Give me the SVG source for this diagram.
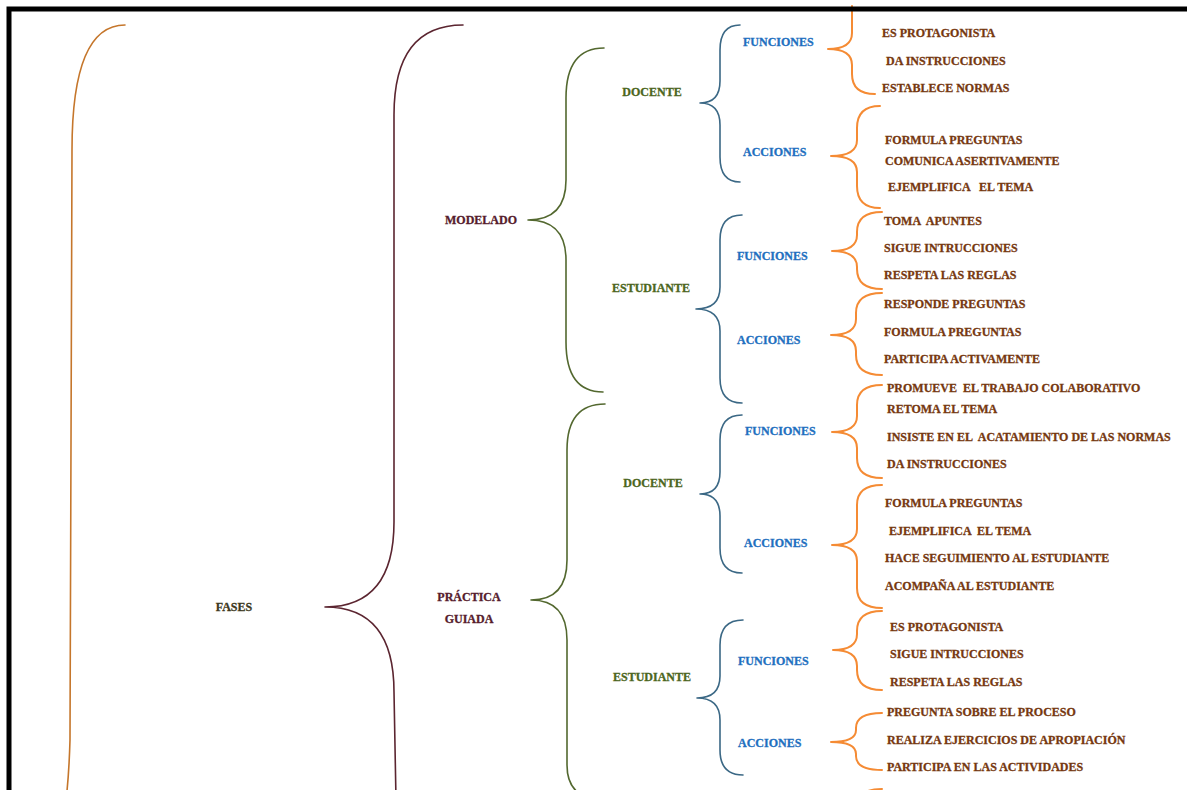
<svg xmlns="http://www.w3.org/2000/svg" width="1187" height="790" viewBox="0 0 1187 790">
  <style>
    text { font-family: "Liberation Serif", "Times New Roman", serif; font-weight: bold; font-size: 12px; white-space: pre; stroke-width: 0.3; }
    .phase { fill: #561c2c; stroke: #561c2c; }
    .root { fill: #3d381c; stroke: #3d381c; }
    .role { fill: #4c6620; stroke: #4c6620; }
    .kind { fill: #1f70c0; stroke: #1f70c0; }
    .item { fill: #763810; stroke: #763810; }
    .mid { text-anchor: middle; }
    path { fill: none; stroke-linecap: round; stroke-linejoin: round; }
    .b-outer { stroke: #c5762b; stroke-width: 1.6; }
    .b-phase { stroke: #5b2530; stroke-width: 1.6; }
    .b-role { stroke: #53682f; stroke-width: 1.6; }
    .b-kind { stroke: #3b6885; stroke-width: 1.6; }
    .b-item { stroke: #f58b34; stroke-width: 2; }
  </style>

  <rect x="0" y="0" width="1187" height="790" fill="#ffffff"/>

  <!-- braces -->
  <g id="connectors">
    <path class="b-outer" d="M125,25 Q72,25 72,150 L70,740 Q69,775 66,800"/>
    <path class="b-phase" d="M463,25 Q394,25 394,115 L394,522 Q394,607 325,607 Q394,607 394,692 L396,800"/>

    <path class="b-role" d="M604,48 Q566,48 566,98 L566,180 Q566,220 528,220 Q566,220 566,260 L566,342 Q566,392 603,392"/>
    <path class="b-role" d="M605,404 Q567,404 567,450 L567,560 Q567,600 531,600 Q567,600 567,640 L567,765 Q567,800 605,800"/>

    <path class="b-kind" d="M740,25 Q720,25 720,50 L720,81 Q720,103 700,103 Q720,103 720,125 L720,157 Q720,182 740,182"/>
    <path class="b-kind" d="M742,215 Q720,215 720,240 L720,287 Q720,309 696,309 Q720,309 720,331 L720,378 Q720,403 742,403"/>
    <path class="b-kind" d="M742,415 Q720,415 720,440 L720,472 Q720,494 700,494 Q720,494 720,516 L720,548 Q720,573 742,573"/>
    <path class="b-kind" d="M743,620 Q720,620 720,645 L720,676 Q720,698 697,698 Q720,698 720,720 L720,750 Q720,775 743,775"/>

    <path class="b-item" d="M852,6 L852,33 Q852,49 828,49 Q852,49 852,65 L852,74 Q852,94 875,94"/>
    <path class="b-item" d="M880,106 Q857,106 857,128 L857,140 Q857,156 831,156 Q857,156 857,172 L857,186 Q857,208 880,208"/>
    <path class="b-item" d="M882,212 Q857,212 857,232 L857,235 Q857,251 832,251 Q857,251 857,267 L857,269 Q857,289 882,289"/>
    <path class="b-item" d="M882,293 Q856,293 856,313 L856,319 Q856,335 831,335 Q856,335 856,351 L856,355 Q856,375 882,375"/>
    <path class="b-item" d="M882,385 Q857,385 857,405 L857,416 Q857,432 832,432 Q857,432 857,448 L857,458 Q857,478 882,478"/>
    <path class="b-item" d="M882,485 Q857,485 857,505 L857,529 Q857,545 832,545 Q857,545 857,561 L857,588 Q857,608 882,608"/>
    <path class="b-item" d="M882,611 Q857,611 857,631 L857,634 Q857,650 833,650 Q857,650 857,666 L857,670 Q857,690 882,690"/>
    <path class="b-item" d="M882,713 Q856,713 856,728 L856,730 Q856,742 831,742 Q856,742 856,754 L856,756 Q856,770 882,770"/>
    <path class="b-item" d="M882,789 Q858,789 858,805"/>
  </g>

  <!-- root -->
  <g id="fases"><text class="root mid" x="234" y="611">FASES</text></g>

  <!-- phases -->
  <g id="modelado"><text class="phase mid" x="481" y="224">MODELADO</text></g>
  <g id="practica-guiada">
    <text class="phase mid" x="469" y="601">PRÁCTICA</text>
    <text class="phase mid" x="469" y="623">GUIADA</text>
  </g>

  <!-- roles -->
  <g id="modelado-docente"><text class="role mid" x="652" y="96">DOCENTE</text></g>
  <g id="modelado-estudiante"><text class="role mid" x="651" y="292">ESTUDIANTE</text></g>
  <g id="guiada-docente"><text class="role mid" x="653" y="487">DOCENTE</text></g>
  <g id="guiada-estudiante"><text class="role mid" x="652" y="681">ESTUDIANTE</text></g>

  <!-- functions / actions -->
  <g id="md-funciones"><text class="kind" x="743" y="46">FUNCIONES</text></g>
  <g id="md-acciones"><text class="kind" x="743" y="156">ACCIONES</text></g>
  <g id="me-funciones"><text class="kind" x="737" y="260">FUNCIONES</text></g>
  <g id="me-acciones"><text class="kind" x="737" y="344">ACCIONES</text></g>
  <g id="gd-funciones"><text class="kind" x="745" y="435">FUNCIONES</text></g>
  <g id="gd-acciones"><text class="kind" x="744" y="547">ACCIONES</text></g>
  <g id="ge-funciones"><text class="kind" x="738" y="665">FUNCIONES</text></g>
  <g id="ge-acciones"><text class="kind" x="738" y="747">ACCIONES</text></g>

  <!-- item lists -->
  <g id="md-funciones-items">
    <text class="item" x="882" y="37">ES PROTAGONISTA</text>
    <text class="item" x="886" y="65">DA INSTRUCCIONES</text>
    <text class="item" x="882" y="92">ESTABLECE NORMAS</text>
  </g>
  <g id="md-acciones-items">
    <text class="item" x="885" y="144">FORMULA PREGUNTAS</text>
    <text class="item" x="885" y="165">COMUNICA ASERTIVAMENTE</text>
    <text class="item" x="888" y="191">EJEMPLIFICA   EL TEMA</text>
  </g>
  <g id="me-funciones-items">
    <text class="item" x="884" y="225">TOMA  APUNTES</text>
    <text class="item" x="884" y="252">SIGUE INTRUCCIONES</text>
    <text class="item" x="884" y="279">RESPETA LAS REGLAS</text>
  </g>
  <g id="me-acciones-items">
    <text class="item" x="884" y="308">RESPONDE PREGUNTAS</text>
    <text class="item" x="884" y="336">FORMULA PREGUNTAS</text>
    <text class="item" x="884" y="363">PARTICIPA ACTIVAMENTE</text>
  </g>
  <g id="gd-funciones-items">
    <text class="item" x="887" y="392">PROMUEVE  EL TRABAJO COLABORATIVO</text>
    <text class="item" x="887" y="413">RETOMA EL TEMA</text>
    <text class="item" x="887" y="441">INSISTE EN EL  ACATAMIENTO DE LAS NORMAS</text>
    <text class="item" x="887" y="468">DA INSTRUCCIONES</text>
  </g>
  <g id="gd-acciones-items">
    <text class="item" x="885" y="507">FORMULA PREGUNTAS</text>
    <text class="item" x="889" y="535">EJEMPLIFICA  EL TEMA</text>
    <text class="item" x="885" y="562">HACE SEGUIMIENTO AL ESTUDIANTE</text>
    <text class="item" x="885" y="590">ACOMPAÑA AL ESTUDIANTE</text>
  </g>
  <g id="ge-funciones-items">
    <text class="item" x="890" y="631">ES PROTAGONISTA</text>
    <text class="item" x="890" y="658">SIGUE INTRUCCIONES</text>
    <text class="item" x="890" y="686">RESPETA LAS REGLAS</text>
  </g>
  <g id="ge-acciones-items">
    <text class="item" x="887" y="716">PREGUNTA SOBRE EL PROCESO</text>
    <text class="item" x="887" y="744">REALIZA EJERCICIOS DE APROPIACIÓN</text>
    <text class="item" x="887" y="771">PARTICIPA EN LAS ACTIVIDADES</text>
  </g>

  <!-- page frame -->
  <rect x="9" y="9" width="1200" height="800" fill="none" stroke="#000000" stroke-width="5"/>
</svg>
